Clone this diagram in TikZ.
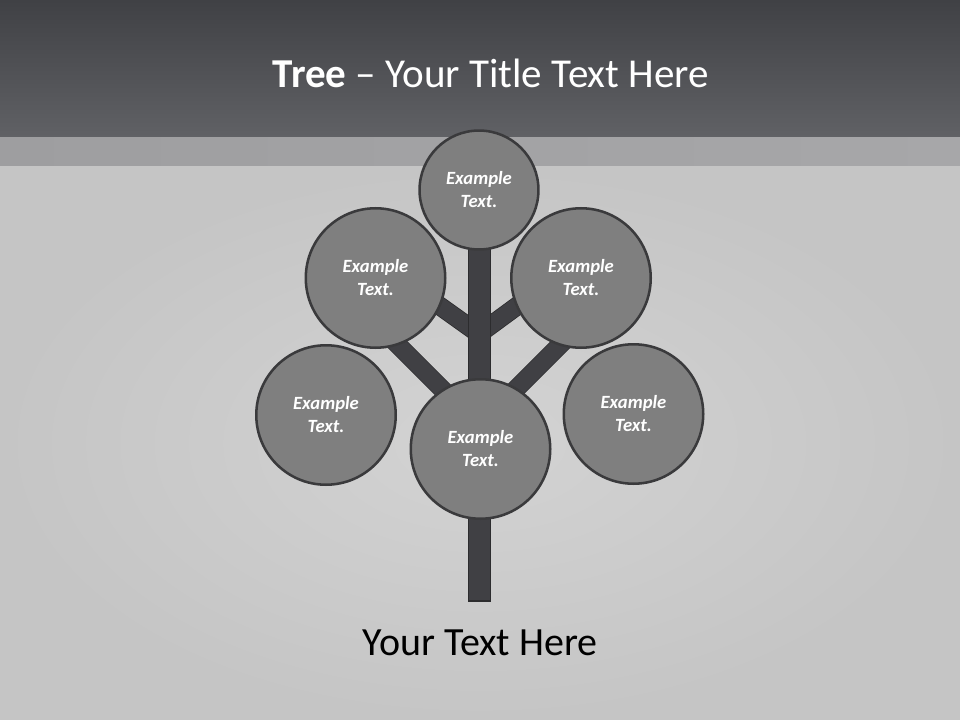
\documentclass[tikz,border=0pt]{standalone}
\usepackage{fontspec}
\setmainfont{Carlito}
\usetikzlibrary{positioning}

\definecolor{barTop}{HTML}{404145}
\definecolor{barBottom}{HTML}{606165}
\definecolor{bandLeft}{HTML}{9E9EA0}
\definecolor{bandRight}{HTML}{A7A7A9}
\definecolor{bgInner}{HTML}{D3D3D3}
\definecolor{bgOuter}{HTML}{C5C5C5}
\definecolor{leafFill}{HTML}{7F7F7F}
\definecolor{leafLine}{HTML}{3A3A3C}
\definecolor{woodFill}{HTML}{404044}
\definecolor{woodLine}{HTML}{2C2C2E}

\begin{document}
\begin{tikzpicture}[
        x=0.75pt, y=-0.75pt,
        every node/.style={inner sep=0pt},
        leaf/.style={circle, draw=leafLine, fill=leafFill, line width=1.9pt, minimum size=104.6pt, align=center, text=white, font=\fontsize{14}{17.25}\selectfont\bfseries\itshape},
        crown/.style={leaf, minimum size=89.2pt},
        branch/.style={draw=woodLine, double=woodFill, double distance=12.8pt, line width=0.6pt, line cap=butt},
        trunk/.style={draw=woodLine, fill=woodFill, line width=1.2pt},
        titletext/.style={text=white, font=\fontsize{30.8}{37}\selectfont},
        caption/.style={text=black, font=\fontsize{30}{36}\selectfont}
    ]
    \useasboundingbox (0,0) rectangle (960,720);

    % Background
    \fill[inner color=bgInner, outer color=bgOuter] (0,166) rectangle (960,720);
    \fill[left color=bandLeft, right color=bandRight] (0,137) rectangle (960,166);
    \fill[top color=barTop, bottom color=barBottom] (0,0) rectangle (960,137);

    % Title and caption
    \node[titletext, anchor=base] (title) at (491,88) {\textbf{Tree} -- Your Title Text Here};
    \node[caption, anchor=base] (bottomtext) at (480,655) {Your Text Here};

    % Trunk and branch points
    \coordinate (forkHigh) at (479,334);
    \coordinate (forkLow) at (479,426);
    \coordinate (twigUL) at (430,299);
    \coordinate (twigUR) at (528,298);
    \coordinate (twigLL) at (384,331);
    \coordinate (twigLR) at (574,331);
    \coordinate (trunkTop) at (468.5,190);
    \coordinate (trunkBase) at (490.5,601);

    % Branches
    \draw[branch] (forkHigh) -- (twigUL);
    \draw[branch] (forkHigh) -- (twigUR);
    \draw[branch] (forkLow) -- (twigLL);
    \draw[branch] (forkLow) -- (twigLR);
    \draw[trunk] (trunkTop) rectangle (trunkBase);

    % Leaves
    \node[crown] (top) at (479,190) {Example\\Text.};
    \node[leaf] (upleft) at (375.5,278) {Example\\Text.};
    \node[leaf] (upright) at (581,278) {Example\\Text.};
    \node[leaf] (lowleft) at (326,415) {Example\\Text.};
    \node[leaf] (center) at (480.5,449) {Example\\Text.};
    \node[leaf] (lowright) at (633.5,414) {Example\\Text.};
\end{tikzpicture}
\end{document}
